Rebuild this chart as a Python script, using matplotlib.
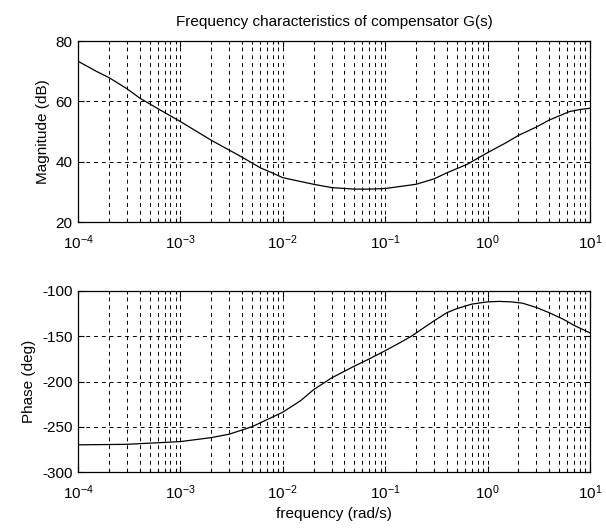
import matplotlib
matplotlib.use("Agg")
import matplotlib.pyplot as plt
from matplotlib.ticker import LogLocator, FixedLocator

plt.rcParams['font.family'] = ['Liberation Sans', 'DejaVu Sans']
plt.rcParams['mathtext.default'] = 'regular'
plt.rcParams['axes.unicode_minus'] = False

title = "Frequency characteristics of compensator G(s)"

mag_freq = [1e-4, 1.5e-4, 2e-4, 3e-4, 4e-4, 6e-4, 1e-3, 2e-3, 4e-3, 6e-3, 8e-3, 1e-2,
            1.5e-2, 2e-2, 3e-2, 5e-2, 7e-2, 1e-1, 2e-1, 3e-1, 4e-1, 6.3e-1, 1.0, 1.5,
            2.0, 3.0, 4.0, 6.3, 8.0, 10.0]
mag_db = [73.3, 70.0, 67.9, 64.2, 61.1, 57.6, 53.3, 47.1, 41.5, 38.0, 36.2, 34.7,
          33.4, 32.5, 31.4, 30.9, 30.9, 31.1, 32.5, 34.3, 36.3, 39.1, 43.0, 46.2,
          48.7, 51.5, 53.8, 56.6, 57.3, 57.7]

ph_freq = [1e-4, 3e-4, 1e-3, 2e-3, 3e-3, 5e-3, 1e-2, 1.5e-2, 2e-2, 3e-2, 5e-2, 7e-2,
           1e-1, 1.4e-1, 1.8e-1, 2.5e-1, 3e-1, 4e-1, 5e-1, 0.7, 1.0, 1.3, 1.7, 2.2,
           3.0, 4.0, 5.5, 7.0, 10.0]
ph_deg = [-270.0, -269.4, -266.4, -262.0, -258.2, -250.0, -233.9, -221.0, -209.0,
          -196.0, -183.0, -175.0, -166.0, -157.0, -150.0, -139.0, -133.0, -124.0,
          -119.5, -114.5, -112.0, -111.5, -112.0, -113.5, -118.3, -124.0, -131.3,
          -138.0, -146.3]

mag_yticks = [20, 40, 60, 80]
ph_yticks = [-300, -250, -200, -150, -100]

W, H = 606, 530
fig = plt.figure(figsize=(W / 100, H / 100), dpi=100)
fig.patch.set_facecolor('white')

def px_axes(l, t, r, b):
    return fig.add_axes([l / W, 1 - b / H, (r - l) / W, (b - t) / H])

ax1 = px_axes(78, 41, 590, 222)
ax2 = px_axes(78, 291, 590, 472)

fs = 11
for ax, fx, fy, yt in ((ax1, mag_freq, mag_db, mag_yticks), (ax2, ph_freq, ph_deg, ph_yticks)):
    ax.plot(fx, fy, color='black', lw=0.9)
    ax.set_xscale('log')
    ax.set_xlim(1e-4, 10)
    ax.set_ylim(yt[0], yt[-1])
    ax.yaxis.set_major_locator(FixedLocator(yt))
    ax.xaxis.set_major_locator(LogLocator(base=10, numticks=20))
    ax.xaxis.set_minor_locator(LogLocator(base=10, subs=range(2, 10), numticks=20))
    ax.grid(which='both', axis='x', color='black', linestyle=(0, (4, 4)), lw=0.7)
    ax.grid(which='major', axis='y', color='black', linestyle=(0, (4, 4)), lw=0.7)
    ax.tick_params(which='both', direction='in', top=True, right=True, labelsize=fs,
                   color='black', width=0.8)
    ax.tick_params(which='major', length=4)
    ax.tick_params(which='minor', length=2.5)
    ax.tick_params(axis='y', which='major', pad=4)
    ax.tick_params(axis='x', which='major', pad=8)
    for s in ax.spines.values():
        s.set_linewidth(0.9)
        s.set_color('black')

ax1.set_ylabel("Magnitude (dB)", fontsize=fs)
ax2.set_ylabel("Phase (deg)", fontsize=fs)
ax2.set_xlabel("frequency (rad/s)", fontsize=fs, labelpad=4)
ax1.set_title(title, fontsize=fs, pad=11)

fig.savefig("out.png", dpi=100, facecolor='white')
